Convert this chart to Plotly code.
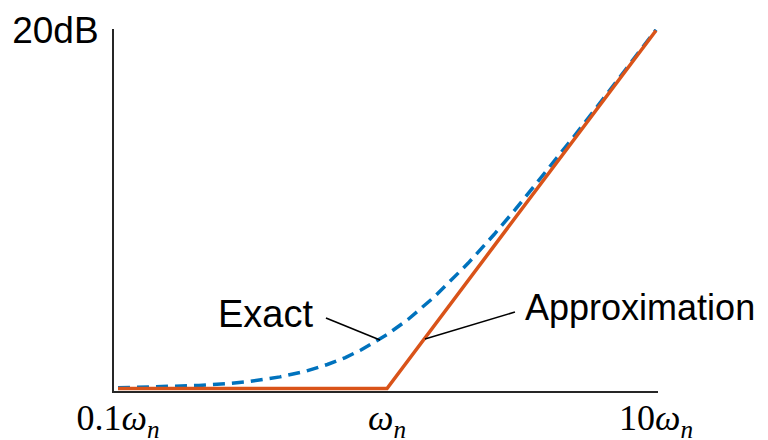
import plotly.graph_objects as go

# Normalised frequency (w / wn) and magnitude in dB
freq_exact = [0.1, 0.15, 0.2, 0.25, 0.3, 0.4, 0.5, 0.6, 0.7, 0.8, 0.9, 1.0,
              1.2, 1.5, 2.0, 2.5, 3.0, 4.0, 5.0, 6.0, 7.0, 8.0, 10.0]
db_exact = [0.04, 0.10, 0.17, 0.26, 0.37, 0.65, 0.97, 1.34, 1.73, 2.15, 2.58, 3.01,
            3.87, 5.12, 6.99, 8.60, 10.00, 12.30, 14.15, 15.68, 16.99, 18.13, 20.04]

freq_approx = [0.1, 1.0, 10.0]
db_approx = [0.0, 0.0, 20.0]

# Leader lines for the two labels: (label end, point on curve)
exact_leader_f = [0.593, 0.942]
exact_leader_db = [3.94, 2.71]
approx_leader_f = [2.99, 1.384]
approx_leader_db = [4.27, 2.77]

label_exact = ("Exact", 0.531, 3.95)
label_approx = ("Approximation", 3.26, 4.35)

x_tickvals = [0.1, 1.0, 10.0]
x_ticktext = ["0.1<i>ω</i><sub><i>n</i></sub>", "<i>ω</i><sub><i>n</i></sub>",
              "10<i>ω</i><sub><i>n</i></sub>"]
y_tickvals = [20]
y_ticktext = ["20dB"]

BLUE = "#0072BD"
ORANGE = "#D95319"
SANS = "Liberation Sans, Arial, sans-serif"
SERIF = "Liberation Serif, Times New Roman, serif"

fig = go.Figure()

fig.add_trace(go.Scatter(
    x=freq_exact, y=db_exact, mode="lines",
    line=dict(color=BLUE, width=3.5, dash="12px,7px"),
    cliponaxis=False, hoverinfo="skip"))

fig.add_trace(go.Scatter(
    x=freq_approx, y=db_approx, mode="lines",
    line=dict(color=ORANGE, width=3.5),
    cliponaxis=False, hoverinfo="skip"))

for fx, fy in [(exact_leader_f, exact_leader_db), (approx_leader_f, approx_leader_db)]:
    fig.add_trace(go.Scatter(
        x=fx, y=fy, mode="lines", line=dict(color="black", width=1.6),
        cliponaxis=False, hoverinfo="skip"))

fig.add_trace(go.Scatter(
    x=[label_exact[1]], y=[label_exact[2]], mode="text", text=[label_exact[0]],
    textposition="middle left", textfont=dict(family=SANS, size=38, color="black"),
    cliponaxis=False, hoverinfo="skip"))
fig.add_trace(go.Scatter(
    x=[label_approx[1]], y=[label_approx[2]], mode="text", text=[label_approx[0]],
    textposition="middle right", textfont=dict(family=SANS, size=36, color="black"),
    cliponaxis=False, hoverinfo="skip"))

fig.update_layout(
    width=768, height=440,
    margin=dict(l=114, r=110, t=29, b=49),
    paper_bgcolor="white", plot_bgcolor="white",
    showlegend=False,
    xaxis=dict(
        type="log", range=[-1.0149, 1.0074], automargin=False,
        showgrid=False, zeroline=False,
        showline=True, linecolor="#262626", linewidth=2,
        ticks="", tickvals=x_tickvals, ticktext=x_ticktext,
        tickfont=dict(family=SERIF, size=36, color="black"),
        ticklabelstandoff=-6,
    ),
    yaxis=dict(
        range=[-0.14, 20.08], automargin=False,
        showgrid=False, zeroline=False,
        showline=True, linecolor="#262626", linewidth=2,
        ticks="", tickvals=y_tickvals, ticktext=y_ticktext,
        tickfont=dict(family=SANS, size=37, color="black"),
        ticklabelstandoff=6,
    ),
)

fig.write_html("out.html")
